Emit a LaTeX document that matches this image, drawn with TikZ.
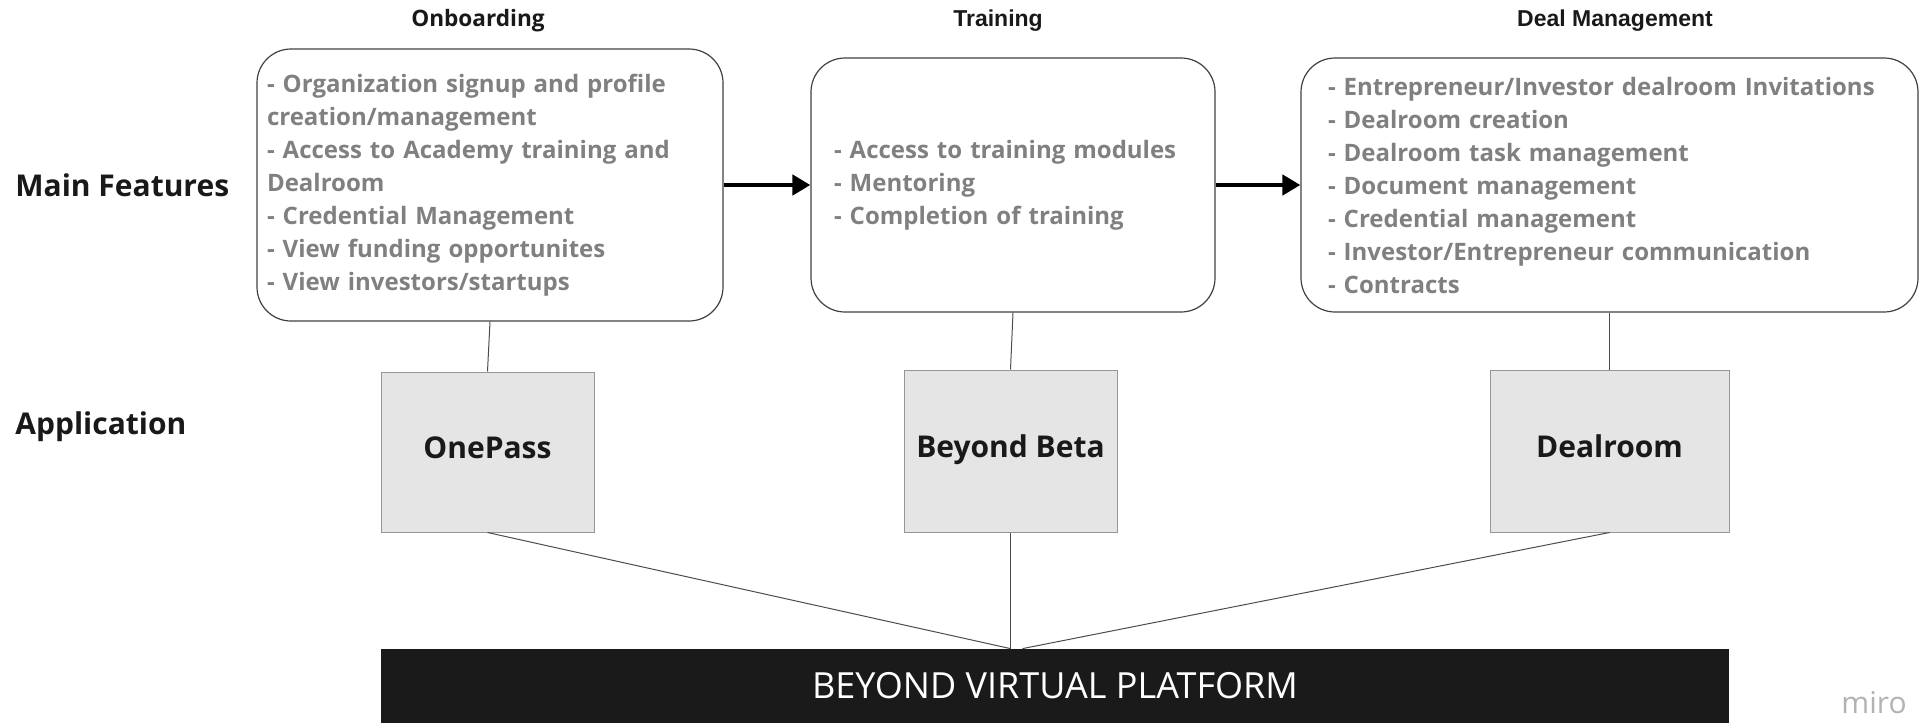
\documentclass[tikz,border=0pt]{standalone}
\usepackage{fontspec}
\setmainfont{Open Sans}
\newfontfamily\arialf{Liberation Sans}
\usetikzlibrary{arrows.meta,calc}
\definecolor{txtgray}{RGB}{128,128,128}
\definecolor{appfill}{RGB}{229,229,229}
\definecolor{appline}{RGB}{150,150,150}
\definecolor{barfill}{RGB}{26,26,26}
\begin{document}
\begin{tikzpicture}[x=0.5pt,y=-0.5pt,
  feat/.style={draw=black!75, line width=0.6pt, rounded corners=17pt, align=left,
    text=txtgray, font=\fontsize{12}{16.5}\selectfont\bfseries, inner ysep=0pt},
  app/.style={draw=appline, fill=appfill, line width=0.5pt, text height=0.8em, text depth=0.15em,
    font=\fontsize{15}{18}\selectfont\bfseries, text=black!90},
  rowlabel/.style={anchor=west, font=\fontsize{15}{18}\selectfont\bfseries, text=black!90, inner sep=0pt},
  coltitle/.style={font=\fontsize{11.3}{13}\selectfont\bfseries, text=black!90, inner sep=0pt},
  flow/.style={line width=2.4pt, -{Triangle[length=9pt,width=10pt]}},
  link/.style={draw=black!70, line width=0.5pt},
  bar/.style={fill=barfill, text=white, font=\fontsize{18}{20}\selectfont, inner sep=0pt,
    minimum width=674pt, minimum height=37pt}
]
\useasboundingbox (0,0) rectangle (1921,723);

% column titles
\node[coltitle] (t1) at (478,21) {Onboarding};
\node[coltitle, font=\arialf\fontsize{11.5}{13}\selectfont\bfseries] (t2) at (998,21) {Training};
\node[coltitle, font=\arialf\fontsize{11.5}{13}\selectfont\bfseries] (t3) at (1615,21) {Deal Management};

% row labels
\node[rowlabel] (mf) at (15,185) {Main Features};
\node[rowlabel] (al) at (15,427) {Application};

% feature boxes
\node[feat, minimum width=233pt, minimum height=136pt, inner xsep=5pt, text width=223pt] (ob) at (490,185)
 {- Organization signup and profile\\ creation/management\\ - Access to Academy training and\\ Dealroom\\ - Credential Management\\ - View funding opportunites\\ - View investors/startups};
\node[feat, minimum width=202pt, minimum height=127pt, inner xsep=11.5pt, text width=179pt] (tr) at (1013,185)
 {- Access to training modules\\ - Mentoring\\ - Completion of training};
\node[feat, minimum width=308.5pt, minimum height=127pt, inner xsep=13.5pt, text width=281.5pt] (dm) at (1609.5,185)
 {- Entrepreneur/Investor dealroom Invitations\\ - Dealroom creation\\ - Dealroom task management\\ - Document management\\ - Credential management\\ - Investor/Entrepreneur communication\\ - Contracts};

% flow arrows
\draw[flow] (ob.east) -- (tr.west);
\draw[flow] (tr.east) -- (dm.west);

% application boxes
\node[app, minimum width=106.5pt, minimum height=80pt] (op) at (487.5,452) {OnePass};
\node[app, minimum width=106.5pt, minimum height=81pt] (bb) at (1010.5,451) {Beyond Beta};
\node[app, minimum width=119.5pt, minimum height=81pt] (dr) at (1609.5,451) {Dealroom};

% platform bar
\node[bar] (pf) at (1055,686) {BEYOND VIRTUAL PLATFORM};

% links
\draw[link] (ob.south) -- (op.north);
\draw[link] (tr.south) -- (bb.north);
\draw[link] (dm.south) -- (dr.north);
\coordinate (hub) at (bb.south |- pf.north);
\coordinate (hubr) at ($(hub)+(12,0)$);
\draw[link] (op.south) -- (hub);
\draw[link] (bb.south) -- (hub);
\draw[link] (dr.south) -- (hubr);

% watermark
\node[text=black!30, font=\fontsize{15}{17}\selectfont, inner sep=0pt] (miro) at (1874,703) {miro};
\end{tikzpicture}
\end{document}
